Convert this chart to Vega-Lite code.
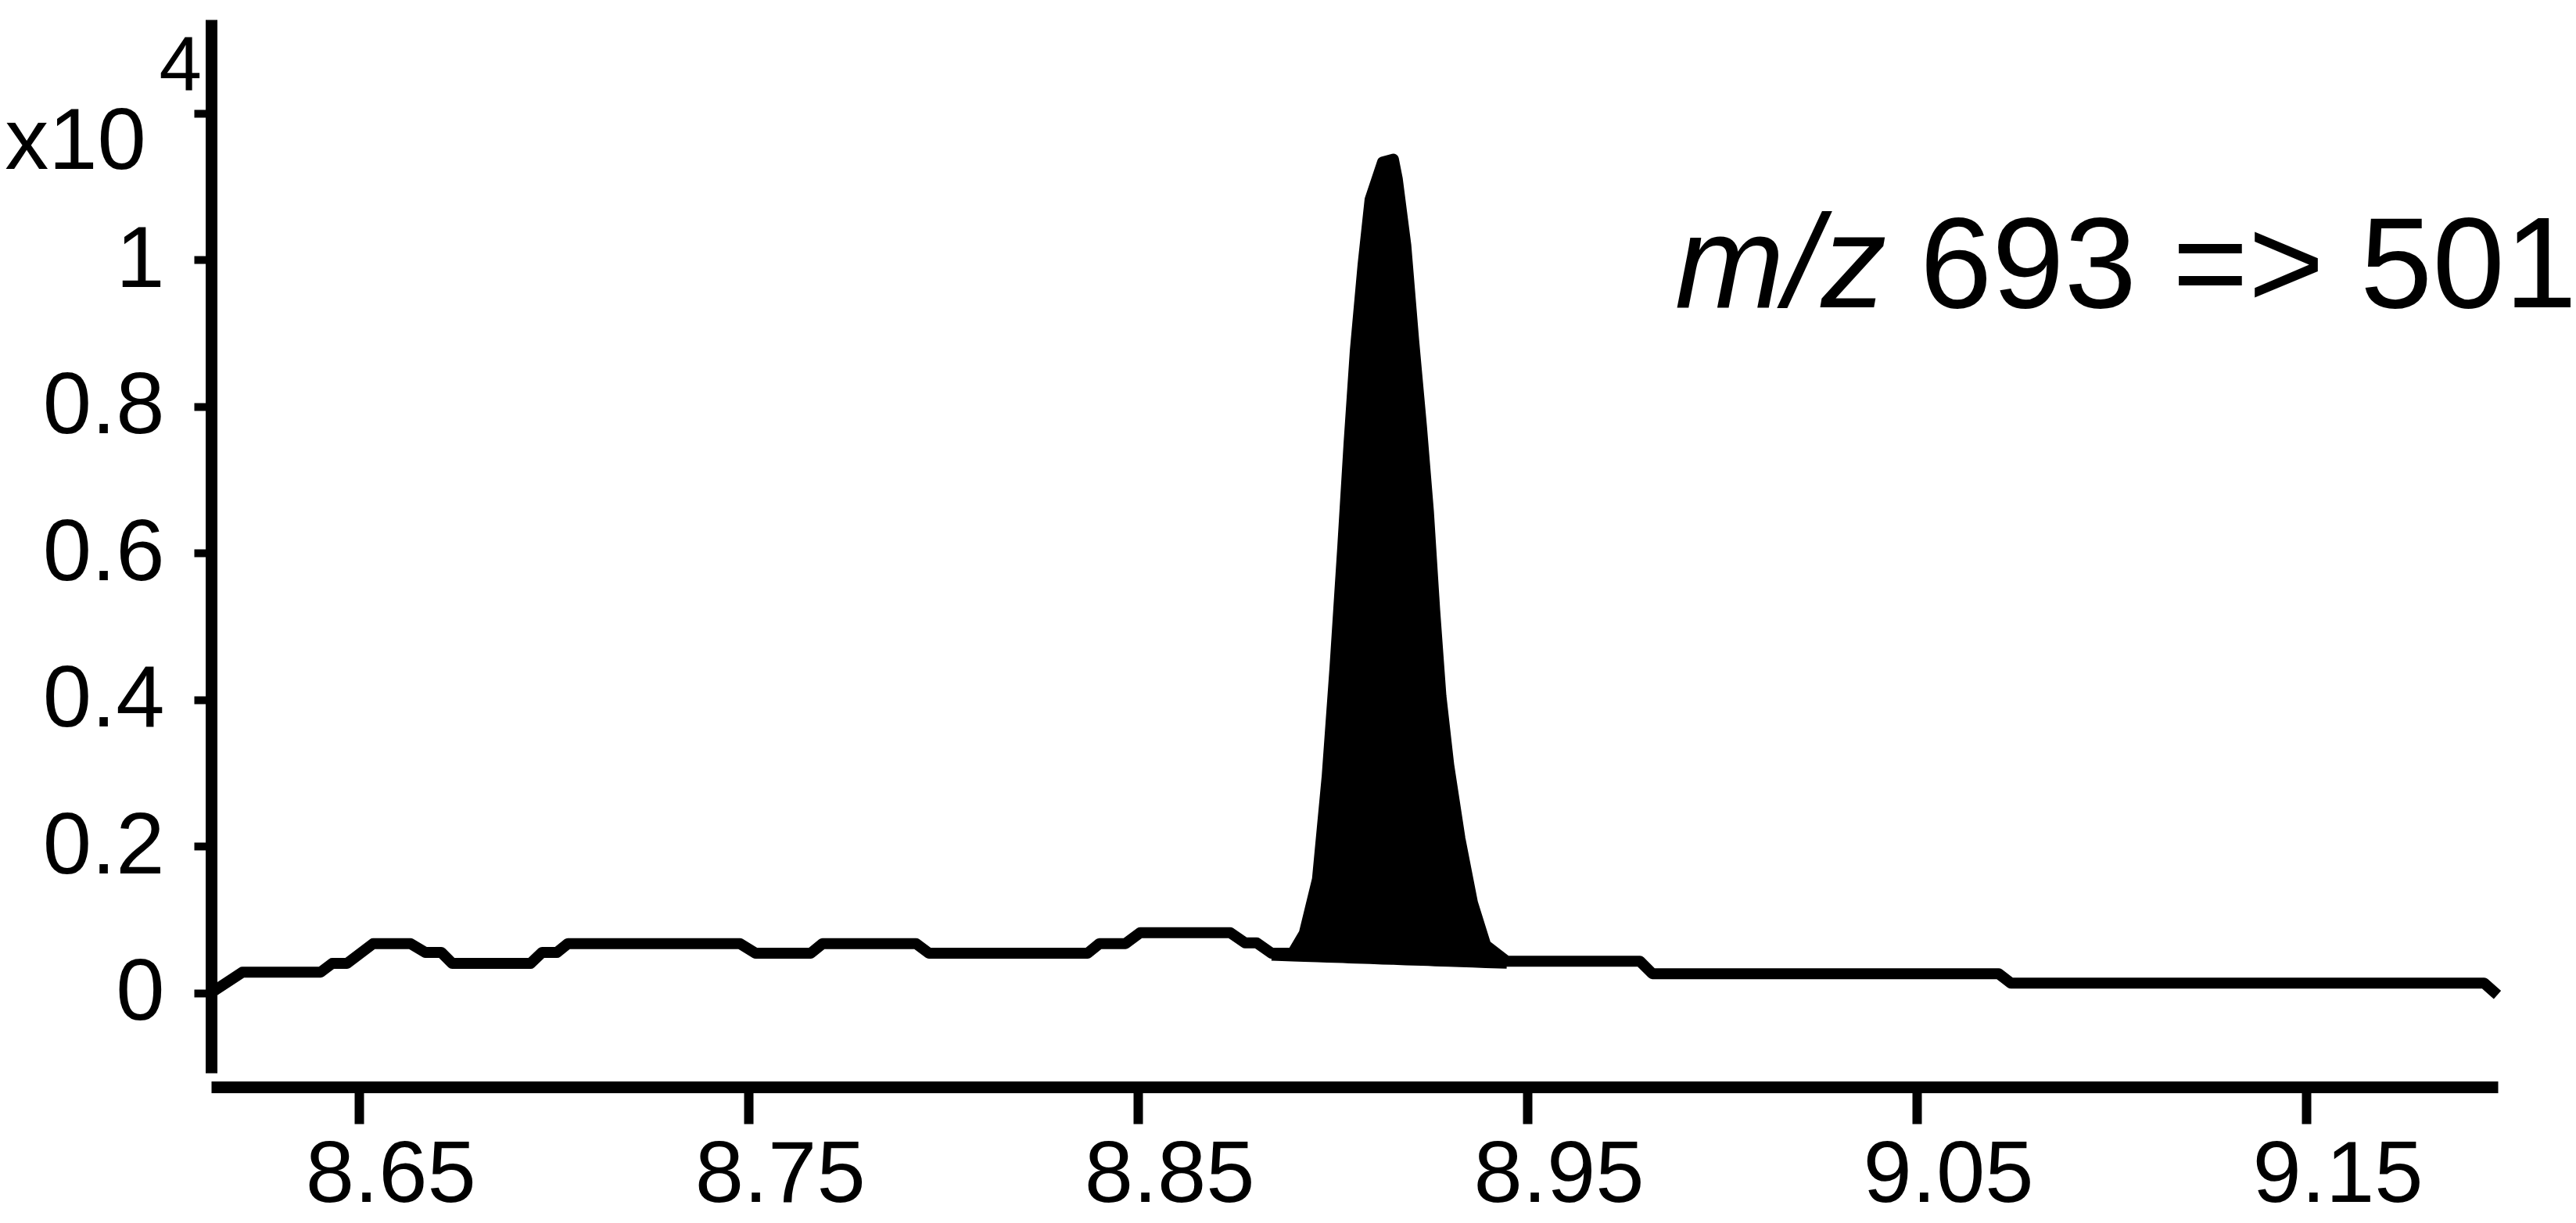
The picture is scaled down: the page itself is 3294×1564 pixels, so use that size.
{
  "$schema": "https://vega.github.io/schema/vega-lite/v6.json",
  "width": 2924,
  "height": 1347,
  "autosize": {"type": "none"},
  "padding": {"left": 270, "top": 25, "right": 100, "bottom": 192},
  "background": "white",
  "config": {"view": {"stroke": null}, "font": "Liberation Sans"},
  "datasets": {
    "trace": [
      {"t": 8.6120, "i": 0.000},
      {"t": 8.6200, "i": 0.028},
      {"t": 8.6401, "i": 0.028},
      {"t": 8.6431, "i": 0.040},
      {"t": 8.6469, "i": 0.040},
      {"t": 8.6536, "i": 0.067},
      {"t": 8.6632, "i": 0.067},
      {"t": 8.6670, "i": 0.055},
      {"t": 8.6711, "i": 0.055},
      {"t": 8.6739, "i": 0.040},
      {"t": 8.6940, "i": 0.040},
      {"t": 8.6970, "i": 0.055},
      {"t": 8.7008, "i": 0.055},
      {"t": 8.7036, "i": 0.067},
      {"t": 8.7478, "i": 0.067},
      {"t": 8.7518, "i": 0.054},
      {"t": 8.7660, "i": 0.054},
      {"t": 8.7690, "i": 0.067},
      {"t": 8.7930, "i": 0.067},
      {"t": 8.7963, "i": 0.054},
      {"t": 8.8371, "i": 0.054},
      {"t": 8.8401, "i": 0.067},
      {"t": 8.8468, "i": 0.067},
      {"t": 8.8506, "i": 0.082},
      {"t": 8.8737, "i": 0.082},
      {"t": 8.8775, "i": 0.068},
      {"t": 8.8805, "i": 0.068},
      {"t": 8.8843, "i": 0.054},
      {"t": 8.8897, "i": 0.054},
      {"t": 8.8927, "i": 0.081},
      {"t": 8.8961, "i": 0.155},
      {"t": 8.8986, "i": 0.296},
      {"t": 8.9006, "i": 0.444},
      {"t": 8.9026, "i": 0.609},
      {"t": 8.9042, "i": 0.749},
      {"t": 8.9058, "i": 0.875},
      {"t": 8.9078, "i": 0.993},
      {"t": 8.9096, "i": 1.082},
      {"t": 8.9128, "i": 1.133},
      {"t": 8.9156, "i": 1.137},
      {"t": 8.9166, "i": 1.110},
      {"t": 8.9188, "i": 1.019},
      {"t": 8.9208, "i": 0.890},
      {"t": 8.9228, "i": 0.773},
      {"t": 8.9246, "i": 0.656},
      {"t": 8.9262, "i": 0.522},
      {"t": 8.9278, "i": 0.405},
      {"t": 8.9298, "i": 0.311},
      {"t": 8.9327, "i": 0.210},
      {"t": 8.9359, "i": 0.123},
      {"t": 8.9393, "i": 0.065},
      {"t": 8.9447, "i": 0.043},
      {"t": 8.9789, "i": 0.043},
      {"t": 8.9821, "i": 0.026},
      {"t": 9.0710, "i": 0.026},
      {"t": 9.0742, "i": 0.013},
      {"t": 9.1957, "i": 0.013},
      {"t": 9.1991, "i": -0.003}
    ],
    "peak": [
      {"t": 8.8843, "i": 0.054, "base": 0.0480},
      {"t": 8.8897, "i": 0.054, "base": 0.0470},
      {"t": 8.8927, "i": 0.081, "base": 0.0465},
      {"t": 8.8961, "i": 0.155, "base": 0.0459},
      {"t": 8.8986, "i": 0.296, "base": 0.0454},
      {"t": 8.9006, "i": 0.444, "base": 0.0450},
      {"t": 8.9026, "i": 0.609, "base": 0.0447},
      {"t": 8.9042, "i": 0.749, "base": 0.0444},
      {"t": 8.9058, "i": 0.875, "base": 0.0441},
      {"t": 8.9078, "i": 0.993, "base": 0.0437},
      {"t": 8.9096, "i": 1.082, "base": 0.0434},
      {"t": 8.9128, "i": 1.133, "base": 0.0428},
      {"t": 8.9156, "i": 1.137, "base": 0.0423},
      {"t": 8.9166, "i": 1.110, "base": 0.0421},
      {"t": 8.9188, "i": 1.019, "base": 0.0417},
      {"t": 8.9208, "i": 0.890, "base": 0.0414},
      {"t": 8.9228, "i": 0.773, "base": 0.0410},
      {"t": 8.9246, "i": 0.656, "base": 0.0407},
      {"t": 8.9262, "i": 0.522, "base": 0.0404},
      {"t": 8.9278, "i": 0.405, "base": 0.0401},
      {"t": 8.9298, "i": 0.311, "base": 0.0397},
      {"t": 8.9327, "i": 0.210, "base": 0.0392},
      {"t": 8.9359, "i": 0.123, "base": 0.0386},
      {"t": 8.9393, "i": 0.065, "base": 0.0380},
      {"t": 8.9447, "i": 0.043, "base": 0.0370}
    ],
    "labels": [
      {"t": 8.9879, "i": 0.935, "s": "m/z", "kind": "title-italic"},
      {"t": 9.0508, "i": 0.935, "s": "693 => 501", "kind": "title-plain"},
      {"t": 8.5953, "i": 1.1237, "s": "x10", "kind": "exp-base"},
      {"t": 8.6096, "i": 1.2315, "s": "4", "kind": "exp-power"}
    ]
  },
  "encoding": {
    "x": {
      "field": "t",
      "type": "quantitative",
      "scale": {"domain": [8.612, 9.1992], "nice": false, "zero": false},
      "axis": {
        "title": null,
        "values": [8.65, 8.75, 8.85, 8.95, 9.05, 9.15],
        "format": ".2f",
        "offset": 18,
        "domainWidth": 15,
        "domainColor": "black",
        "tickSize": 47,
        "tickWidth": 12,
        "tickColor": "black",
        "labelFontSize": 112,
        "labelFont": "Liberation Sans",
        "labelColor": "black",
        "labelPadding": 11,
        "labelOffset": 40,
        "labelLimit": 0,
        "grid": false,
        "labelFlush": false,
        "labelOverlap": false
      }
    },
    "y": {
      "field": "i",
      "type": "quantitative",
      "scale": {"domain": [-0.1093, 1.3275], "nice": false, "zero": false},
      "axis": {
        "title": null,
        "values": [0, 0.2, 0.4, 0.6, 0.8, 1, 1.2],
        "format": ".1~f",
        "labelExpr": "datum.value > 1.1 ? '' : datum.label",
        "domainWidth": 15,
        "domainColor": "black",
        "tickSize": 22,
        "tickWidth": 10,
        "tickColor": "black",
        "labelFontSize": 112,
        "labelFont": "Liberation Sans",
        "labelColor": "black",
        "labelPadding": 38,
        "labelLimit": 0,
        "grid": false,
        "labelFlush": false,
        "labelOverlap": false
      }
    }
  },
  "layer": [
    {
      "data": {"name": "peak"},
      "mark": {"type": "area", "color": "black", "interpolate": "linear"},
      "encoding": {"y2": {"field": "base"}}
    },
    {
      "data": {"name": "peak"},
      "mark": {"type": "line", "color": "black", "strokeWidth": 8},
      "encoding": {
        "y": {"field": "base", "type": "quantitative", "scale": {"domain": [-0.1093, 1.3275], "nice": false, "zero": false}}
      }
    },
    {
      "data": {"name": "trace"},
      "mark": {"type": "line", "color": "black", "strokeWidth": 14, "strokeJoin": "round"},
      "encoding": {}
    },
    {
      "data": {"name": "labels"},
      "transform": [{"filter": "datum.kind == 'title-italic'"}],
      "mark": {"type": "text", "align": "left", "baseline": "alphabetic", "fontSize": 168, "fontStyle": "italic", "font": "Liberation Sans", "color": "black"},
      "encoding": {"text": {"field": "s"}}
    },
    {
      "data": {"name": "labels"},
      "transform": [{"filter": "datum.kind == 'title-plain'"}],
      "mark": {"type": "text", "align": "left", "baseline": "alphabetic", "fontSize": 166, "font": "Liberation Sans", "color": "black"},
      "encoding": {"text": {"field": "s"}}
    },
    {
      "data": {"name": "labels"},
      "transform": [{"filter": "datum.kind == 'exp-base'"}],
      "mark": {"type": "text", "align": "right", "baseline": "alphabetic", "fontSize": 112, "font": "Liberation Sans", "color": "black"},
      "encoding": {"text": {"field": "s"}}
    },
    {
      "data": {"name": "labels"},
      "transform": [{"filter": "datum.kind == 'exp-power'"}],
      "mark": {"type": "text", "align": "right", "baseline": "alphabetic", "fontSize": 98, "font": "Liberation Sans", "color": "black"},
      "encoding": {"text": {"field": "s"}}
    }
  ]
}
